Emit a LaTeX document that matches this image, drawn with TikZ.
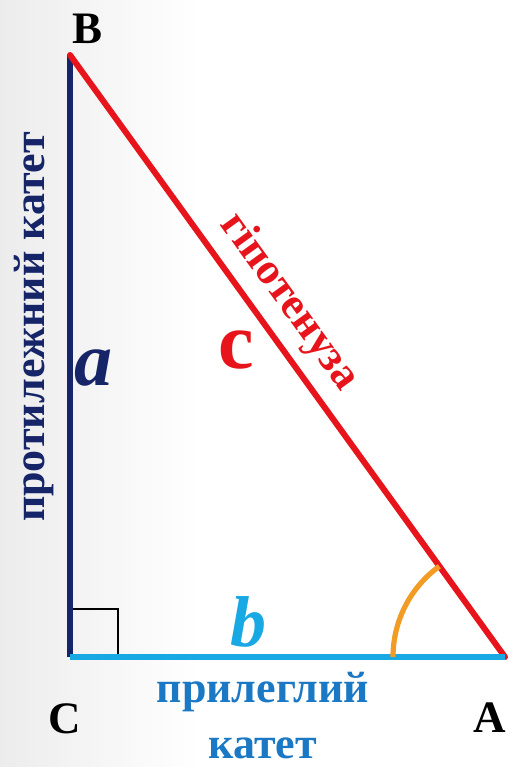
\documentclass[tikz,border=0pt]{standalone}
\usepackage{fontspec}
\setmainfont{Liberation Serif}
\definecolor{navy}{RGB}{22,36,104}
\definecolor{hypred}{RGB}{232,20,27}
\definecolor{legcyan}{RGB}{24,168,228}
\definecolor{adjtext}{RGB}{26,120,196}
\definecolor{arcorange}{RGB}{242,155,37}
\definecolor{bgl}{RGB}{236,236,236}
\begin{document}
\begin{tikzpicture}[x=0.5pt,y=-0.5pt,
  vertex/.style={font=\fontsize{22.5}{26}\selectfont\bfseries, text=black, inner sep=0pt},
  sidelbl/.style={inner sep=0pt},
  catlbl/.style={font=\fontsize{22}{26}\selectfont\bfseries, inner sep=0pt}]
\useasboundingbox (0,0) rectangle (512,767);
\shade[left color=bgl, right color=white] (0,0) rectangle (200,767);
\fill[white] (200,0) rectangle (512,767);
\coordinate (B) at (70,55);
\coordinate (C) at (70,657);
\coordinate (A) at (505,657);
% right angle mark
\draw[black, line width=1.2pt] (70,609) -- (118,609) -- (118,657);
% sides
\draw[navy, line width=3.2pt] (C) -- (B);
\draw[hypred, line width=3pt, line cap=round] (B) -- (A);
\draw[legcyan, line width=3pt] (C) -- (A);
% angle arc
\draw[arcorange, line width=2.6pt] ([shift={(180:112)}]A) arc[start angle=180, end angle=125.9, radius=56pt];
% vertex labels
\node[vertex] (lB) at (88,29) {B};
\node[vertex] (lC) at (65,719) {C};
\node[vertex] (lA) at (490,718) {A};
% side letters
\node[sidelbl, text=navy, font=\fontsize{38}{40}\selectfont\bfseries\itshape] (la) at (94,368) {a};
\node[sidelbl, text=legcyan, font=\fontsize{36}{40}\selectfont\bfseries\itshape] (lb) at (248,622) {b};
\node[sidelbl, text=hypred, font=\fontsize{40}{44}\selectfont\bfseries] (lc) at (236,350) {c};
% descriptive labels
\node[catlbl, text=hypred, rotate=-54.1] (hyp) at (289,302) {гіпотенуза};
\node[catlbl, text=navy, rotate=90] (opp) at (34,327) {протилежний катет};
\node[catlbl, text=adjtext, align=center, font=\fontsize{22}{28}\selectfont\bfseries] (adj) at (263,716) {прилеглий\\катет};
\end{tikzpicture}
\end{document}
